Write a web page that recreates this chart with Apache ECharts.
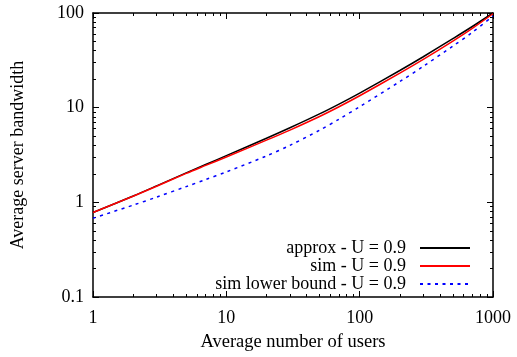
<!DOCTYPE html>
<html>
<head>
<meta charset="utf-8">
<script src="https://cdn.jsdelivr.net/npm/echarts@6/dist/echarts.min.js"></script>
<style>html,body{margin:0;padding:0;background:#fff}#c{width:517px;height:357px}</style>
</head>
<body>
<div id="c"></div>
<script>
// Data
const users = [1, 2, 3, 5, 7, 10, 20, 30, 50, 70, 100, 200, 300, 500, 700, 1000];
const approx = [0.78, 1.166, 1.493, 2.049, 2.512, 3.112, 4.75, 6.13, 8.59, 10.91, 14.26, 24.7, 34.5, 53.6, 72.0, 100];
const sim = [0.78, 1.161, 1.479, 2.021, 2.455, 3.012, 4.536, 5.80, 8.07, 10.23, 13.37, 23.16, 32.35, 50.5, 68.8, 98.2];
const simLower = [0.68, 0.934, 1.135, 1.466, 1.74, 2.094, 3.09, 4.00, 5.78, 7.56, 10.24, 18.86, 27.37, 44.7, 62.5, 93];
const seriesNames = ['approx - U = 0.9', 'sim - U = 0.9', 'sim lower bound - U = 0.9'];
const xTicksMinor = [2,3,4,5,6,7,8,9,20,30,40,50,60,70,80,90,200,300,400,500,600,700,800,900];
const yTicksMinor = [0.2,0.3,0.4,0.5,0.6,0.7,0.8,0.9,2,3,4,5,6,7,8,9,20,30,40,50,60,70,80,90];

const FONT = 'Liberation Serif';
const pair = (ys) => users.map((x, i) => [x, ys[i]]);
const plainFmt = (v) => String(v);

function makeAxis(pos, min, max, major, minorVals, extra) {
  const base = {
    type: 'log', logBase: 10, min: min, max: max, position: pos,
    splitLine: { show: false }, minorTick: { show: false }, minorSplitLine: { show: false }
  };
  if (major) {
    return Object.assign(base, {
      axisLine: { show: true, lineStyle: { color: '#000', width: 1.5 } },
      axisTick: { show: true, inside: true, length: 6, lineStyle: { color: '#000', width: 1 } },
      axisLabel: { show: false }
    }, extra || {});
  }
  return Object.assign(base, {
    axisLine: { show: false },
    axisTick: { show: true, inside: true, length: 3, customValues: minorVals, lineStyle: { color: '#000', width: 1 } },
    axisLabel: { show: false }
  });
}

const chart = echarts.init(document.getElementById('c'), null, { renderer: 'canvas' });
chart.setOption({
  animation: false,
  backgroundColor: '#fff',
  grid: { left: 93, top: 13, right: 24, bottom: 59, containLabel: false },
  legend: {
    orient: 'vertical', align: 'right', right: 41, top: 234,
    itemWidth: 50, itemHeight: 14, itemGap: 0,
    itemStyle: { opacity: 0 },
    textStyle: { fontFamily: FONT, fontSize: 18, color: '#000', lineHeight: 18, padding: [0, 9, 0, 0] },
    data: seriesNames
  },
  xAxis: [
    makeAxis('bottom', 1, 1000, true, null, {
      axisLabel: { show: true, fontFamily: FONT, fontSize: 18, color: '#000', margin: 12, formatter: plainFmt },
      name: 'Average number of users', nameLocation: 'middle', nameGap: 36,
      nameTextStyle: { fontFamily: FONT, fontSize: 18.5, color: '#000' }
    }),
    makeAxis('bottom', 1, 1000, false, xTicksMinor),
    makeAxis('top', 1, 1000, true, null),
    makeAxis('top', 1, 1000, false, xTicksMinor)
  ],
  yAxis: [
    makeAxis('left', 0.1, 100, true, null, {
      axisLabel: { show: true, fontFamily: FONT, fontSize: 18, color: '#000', margin: 9, formatter: plainFmt },
      name: 'Average server bandwidth', nameLocation: 'middle', nameGap: 66, nameRotate: 90,
      nameTextStyle: { fontFamily: FONT, fontSize: 18, color: '#000' }
    }),
    makeAxis('left', 0.1, 100, false, yTicksMinor),
    makeAxis('right', 0.1, 100, true, null),
    makeAxis('right', 0.1, 100, false, yTicksMinor)
  ],
  series: [
    { name: seriesNames[0], type: 'line', data: pair(approx), symbol: 'none', smooth: 0.3,
      lineStyle: { color: '#000', width: 1.5 }, itemStyle: { color: '#000' } },
    { name: seriesNames[1], type: 'line', data: pair(sim), symbol: 'none', smooth: 0.3,
      lineStyle: { color: '#ff0000', width: 1.5 }, itemStyle: { color: '#ff0000' } },
    { name: seriesNames[2], type: 'line', data: pair(simLower), symbol: 'none', smooth: 0.3,
      lineStyle: { color: '#0000ff', width: 1.5, type: [3, 4.5] }, itemStyle: { color: '#0000ff' } }
  ]
});
</script>
</body>
</html>
